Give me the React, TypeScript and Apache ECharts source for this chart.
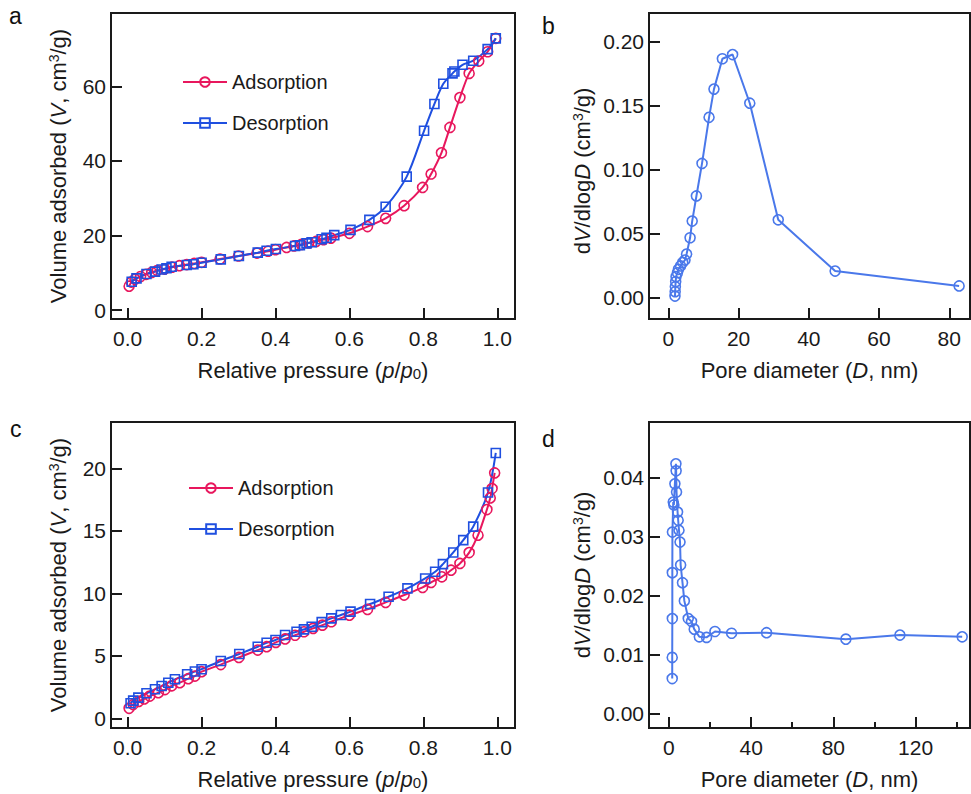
import React, { useEffect, useRef } from "react";
import * as echarts from "echarts";

const FONT = '"Liberation Sans", Arial, sans-serif';
const TXT = "#1a1a1a";
const RED = "#E8175D";
const BLUE = "#1F4FE0";
const LBLUE = "#4A78EA";

// Panel a – isotherm
const aAdsX = [0.004, 0.01, 0.02, 0.035, 0.05, 0.065, 0.08, 0.1, 0.12, 0.14, 0.16, 0.18, 0.2, 0.25, 0.3, 0.35, 0.38, 0.4, 0.43, 0.45, 0.47, 0.49, 0.51, 0.53, 0.55, 0.6, 0.649, 0.698, 0.748, 0.798, 0.821, 0.849, 0.872, 0.899, 0.924, 0.95, 0.974, 0.996];
const aAdsY = [6.4, 7.5, 8.3, 9.0, 9.6, 10.1, 10.6, 11.0, 11.5, 11.9, 12.2, 12.5, 12.8, 13.7, 14.5, 15.3, 15.8, 16.2, 16.8, 17.2, 17.6, 18.0, 18.4, 18.9, 19.3, 20.6, 22.4, 24.6, 28.0, 32.9, 36.5, 42.2, 49.0, 57.0, 63.5, 66.8, 69.3, 72.9];
const aDesX = [0.996, 0.974, 0.935, 0.906, 0.884, 0.879, 0.854, 0.83, 0.802, 0.755, 0.698, 0.654, 0.603, 0.559, 0.538, 0.525, 0.498, 0.484, 0.466, 0.453, 0.401, 0.376, 0.352, 0.301, 0.252, 0.2, 0.178, 0.16, 0.119, 0.105, 0.092, 0.074, 0.051, 0.024, 0.011];
const aDesY = [72.9, 70.0, 66.9, 65.8, 64.0, 63.5, 60.7, 55.3, 48.1, 35.8, 27.7, 24.2, 21.5, 20.1, 19.4, 19.0, 18.2, 17.9, 17.4, 17.2, 16.4, 15.9, 15.4, 14.5, 13.6, 12.7, 12.3, 12.1, 11.6, 11.2, 10.9, 10.3, 9.66, 8.5, 7.6];

// Panel b – pore size distribution
const bX = [1.9, 1.95, 2.0, 2.1, 2.2, 2.6, 2.9, 3.5, 4.1, 4.75, 5.2, 6.2, 6.8, 8.0, 9.6, 11.6, 13.0, 15.4, 18.3, 23.2, 31.3, 47.5, 82.8];
const bY = [0.0015, 0.0049, 0.0088, 0.0127, 0.0166, 0.0197, 0.0224, 0.025, 0.0276, 0.0296, 0.0343, 0.047, 0.06, 0.0796, 0.105, 0.141, 0.163, 0.1867, 0.19, 0.152, 0.061, 0.021, 0.0094];

// Panel c – isotherm
const cAdsX = [0.004, 0.015, 0.03, 0.045, 0.06, 0.083, 0.101, 0.119, 0.141, 0.164, 0.182, 0.2, 0.252, 0.301, 0.352, 0.376, 0.401, 0.426, 0.453, 0.477, 0.502, 0.527, 0.551, 0.6, 0.649, 0.698, 0.748, 0.798, 0.821, 0.85, 0.875, 0.899, 0.924, 0.948, 0.972, 0.981, 0.986, 0.993];
const cAdsY = [0.8, 1.1, 1.35, 1.55, 1.78, 2.05, 2.3, 2.6, 2.85, 3.17, 3.38, 3.73, 4.3, 4.87, 5.46, 5.73, 6.08, 6.35, 6.65, 6.93, 7.2, 7.46, 7.73, 8.26, 8.72, 9.28, 9.87, 10.48, 10.88, 11.33, 11.86, 12.4, 13.27, 14.66, 16.72, 17.65, 18.4, 19.65];
const cDesX = [0.996, 0.975, 0.935, 0.908, 0.881, 0.853, 0.832, 0.805, 0.757, 0.706, 0.656, 0.603, 0.577, 0.551, 0.525, 0.498, 0.477, 0.457, 0.426, 0.4, 0.376, 0.352, 0.302, 0.252, 0.2, 0.182, 0.161, 0.128, 0.11, 0.092, 0.074, 0.051, 0.029, 0.015, 0.008];
const cDesY = [21.25, 18.08, 15.35, 14.27, 13.28, 12.35, 11.73, 11.2, 10.4, 9.73, 9.15, 8.54, 8.27, 8.0, 7.7, 7.33, 7.12, 6.93, 6.67, 6.27, 6.05, 5.73, 5.15, 4.59, 3.93, 3.74, 3.52, 3.12, 2.85, 2.58, 2.32, 2.0, 1.65, 1.41, 1.2];

// Panel d – pore size distribution
const dX = [1.6, 1.6, 1.65, 1.65, 1.7, 2.1, 2.4, 2.9, 3.4, 3.5, 3.7, 4.2, 4.5, 4.9, 5.4, 5.7, 6.6, 7.5, 9.4, 11.0, 12.3, 14.8, 18.3, 22.4, 30.5, 47.5, 86.1, 112.4, 142.7];
const dY = [0.0059, 0.0095, 0.0161, 0.0239, 0.0308, 0.0359, 0.0354, 0.039, 0.0424, 0.0412, 0.0376, 0.0342, 0.0328, 0.0311, 0.0291, 0.0252, 0.0222, 0.0191, 0.0161, 0.0156, 0.0143, 0.013, 0.0129, 0.0139, 0.0136, 0.0137, 0.0126, 0.0133, 0.013];

// Tick values
const pTicks = [0, 0.2, 0.4, 0.6, 0.8, 1.0];
const aYTicks = [0, 20, 40, 60];
const bXTicks = [0, 20, 40, 60, 80];
const bYTicks = [0, 0.05, 0.1, 0.15, 0.2];
const cYTicks = [0, 5, 10, 15, 20];
const dXTicks = [0, 40, 80, 120];
const dXMinor = [20, 60, 100, 140];
const dYTicks = [0, 0.01, 0.02, 0.03, 0.04];

const zip = (xs: number[], ys: number[]) => xs.map((x, i) => [x, ys[i]]);

const NS = 22;
const rich = {
  n: { fontSize: NS, fontFamily: FONT, color: TXT },
  i: { fontSize: NS, fontFamily: FONT, color: TXT, fontStyle: "italic" },
  sup: { fontSize: 14, fontFamily: FONT, color: TXT, verticalAlign: "top" },
  sub: { fontSize: 15, fontFamily: FONT, color: TXT, verticalAlign: "bottom" },
};

const tickStyle = { color: TXT, width: 2 };

function xAxis(gridIndex: number, min: number, max: number, ticks: number[], dec: number, name: string) {
  return {
    type: "value",
    gridIndex,
    min,
    max,
    position: "bottom",
    axisLine: { show: false, onZero: false },
    axisTick: { show: true, inside: true, length: 11, lineStyle: tickStyle, customValues: ticks },
    axisLabel: {
      customValues: ticks,
      formatter: (v: number) => v.toFixed(dec),
      margin: 9,
      fontSize: 21,
      fontFamily: FONT,
      color: TXT,
    },
    splitLine: { show: false },
    name,
    nameLocation: "middle",
    nameGap: 40,
    nameTextStyle: { fontSize: NS, fontFamily: FONT, color: TXT, rich },
  };
}

function yAxis(gridIndex: number, min: number, max: number, ticks: number[], dec: number, name: string, gap: number, pad: number) {
  return {
    type: "value",
    gridIndex,
    min,
    max,
    axisLine: { show: false, onZero: false },
    axisTick: { show: true, inside: true, length: 11, lineStyle: tickStyle, customValues: ticks },
    axisLabel: {
      customValues: ticks,
      formatter: (v: number) => v.toFixed(dec),
      margin: 5,
      fontSize: 21,
      fontFamily: FONT,
      color: TXT,
    },
    splitLine: { show: false },
    name,
    nameLocation: "middle",
    nameGap: gap,
    nameTextStyle: { fontSize: NS, fontFamily: FONT, color: TXT, rich, padding: [0, pad, 0, 0] },
  };
}

const gridBase = { show: true, borderColor: TXT, borderWidth: 2, backgroundColor: "transparent" };

const volName = "{n|Volume adsorbed (}{i|V}{n|, cm}{sup|3}{n|/g)}";
const psdName = "{n|d}{i|V}{n|/dlog}{i|D}{n| (cm}{sup|3}{n|/g)}";
const pName = "{n|Relative pressure (}{i|p}{n|/}{i|p}{sub|0}{n|)}";
const dName = "{n|Pore diameter (}{i|D}{n|, nm)}";

function isoSeries(name: string, xi: number, yi: number, data: number[][], color: string, symbol: string, size: number) {
  return {
    type: "line",
    name,
    xAxisIndex: xi,
    yAxisIndex: yi,
    data,
    smooth: 0.3,
    symbol,
    symbolSize: size,
    showAllSymbol: true,
    lineStyle: { color, width: 2 },
    itemStyle: { color: "rgba(255,255,255,0)", borderColor: color, borderWidth: 1.6 },
  };
}

function psdSeries(xi: number, yi: number, data: number[][]) {
  return {
    type: "line",
    name: "PSD" + xi,
    xAxisIndex: xi,
    yAxisIndex: yi,
    data,
    symbol: "circle",
    symbolSize: 10,
    showAllSymbol: true,
    lineStyle: { color: LBLUE, width: 2 },
    itemStyle: { color: "rgba(255,255,255,0)", borderColor: LBLUE, borderWidth: 1.6 },
  };
}

const legendBase = {
  orient: "vertical",
  itemWidth: 44,
  itemHeight: 12,
  itemGap: 21,
  data: ["Adsorption", "Desorption"],
  textStyle: { fontSize: 20, fontFamily: FONT, color: TXT },
  selectedMode: false,
};

const option = {
  animation: false,
  backgroundColor: "#ffffff",
  grid: [
    { ...gridBase, left: 111, top: 13, width: 404, height: 306 },
    { ...gridBase, left: 649, top: 13, width: 321, height: 306 },
    { ...gridBase, left: 111, top: 422, width: 404, height: 306 },
    { ...gridBase, left: 649, top: 422, width: 321, height: 306 },
  ],
  xAxis: [
    xAxis(0, -0.045, 1.048, pTicks, 1, pName),
    xAxis(1, -5.5, 85.9, bXTicks, 0, dName),
    xAxis(2, -0.045, 1.048, pTicks, 1, pName),
    xAxis(3, -9.7, 146.5, dXTicks, 0, dName),
    {
      type: "value",
      gridIndex: 3,
      min: -9.7,
      max: 146.5,
      position: "bottom",
      offset: 0,
      axisLine: { show: false, onZero: false },
      axisTick: { show: true, inside: true, length: 6, lineStyle: tickStyle, customValues: dXMinor },
      axisLabel: { show: false },
      splitLine: { show: false },
    },
  ],
  yAxis: [
    yAxis(0, -2.4, 79.7, aYTicks, 0, volName, 42, 0),
    yAxis(1, -0.0164, 0.2224, bYTicks, 2, psdName, 56, 10),
    yAxis(2, -0.78, 23.73, cYTicks, 0, volName, 42, 0),
    yAxis(3, -0.0025, 0.0495, dYTicks, 2, psdName, 56, 0),
  ],
  legend: [
    { ...legendBase, left: 177, top: 67 },
    { ...legendBase, left: 183, top: 473 },
  ],
  series: [
    isoSeries("Adsorption", 0, 0, zip(aAdsX, aAdsY), RED, "circle", 10),
    isoSeries("Desorption", 0, 0, zip(aDesX, aDesY), BLUE, "rect", 9),
    psdSeries(1, 1, zip(bX, bY)),
    isoSeries("Adsorption", 2, 2, zip(cAdsX, cAdsY), RED, "circle", 10),
    isoSeries("Desorption", 2, 2, zip(cDesX, cDesY), BLUE, "rect", 9),
    psdSeries(3, 3, zip(dX, dY)),
  ],
  graphic: [
    { type: "text", left: 9, top: 4, style: { text: "a", fontSize: 23, fontFamily: FONT, fill: "#111" } },
    { type: "text", left: 542, top: 14, style: { text: "b", fontSize: 23, fontFamily: FONT, fill: "#111" } },
    { type: "text", left: 10, top: 417, style: { text: "c", fontSize: 23, fontFamily: FONT, fill: "#111" } },
    { type: "text", left: 542, top: 427, style: { text: "d", fontSize: 23, fontFamily: FONT, fill: "#111" } },
  ],
};

export default function App() {
  const ref = useRef<HTMLDivElement>(null);
  useEffect(() => {
    const chart = echarts.init(ref.current as HTMLDivElement, null, { renderer: "svg" });
    chart.setOption(option as any);
    return () => chart.dispose();
  }, []);
  return (
    <div
      ref={ref}
      style={{ position: "absolute", left: 0, top: 0, width: 971, height: 794, background: "#fff" }}
    />
  );
}
